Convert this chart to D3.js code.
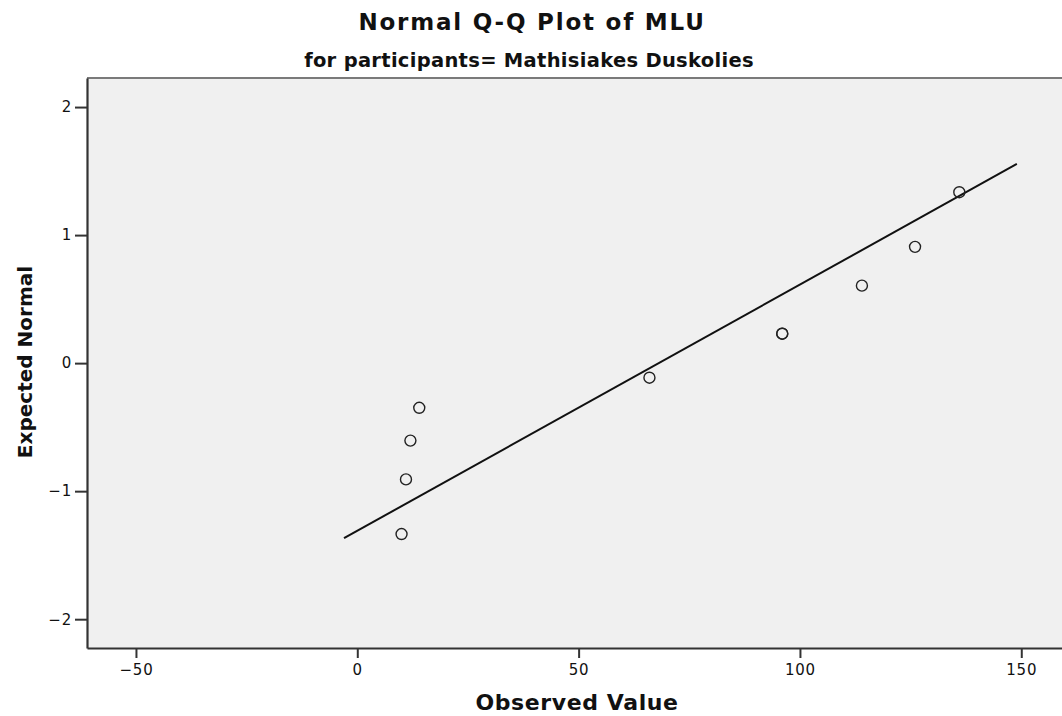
<!DOCTYPE html>
<html>
<head>
<meta charset="utf-8">
<script src="https://cdn.jsdelivr.net/npm/d3@7"></script>
<style>
  html, body { margin: 0; padding: 0; background: #fff; }
  svg { display: block; }
  text { font-family: "DejaVu Sans", sans-serif; fill: #111; }
</style>
</head>
<body>
<svg id="chart" width="1062" height="716"></svg>
<script>
// Observed MLU values (sorted) and their expected normal scores
const observed = [10, 11, 12, 14, 66, 96, 96, 114, 126, 136];
const expected = [-1.335, -0.908, -0.605, -0.349, -0.114, 0.230, 0.230, 0.605, 0.908, 1.335];

// Axis ticks
const xTicks = [-50, 0, 50, 100, 150];
const yTicks = [-2, -1, 0, 1, 2];

// Extent of the reference line along the observed axis
const lineExtent = [-3, 149];

const title = "Normal Q-Q Plot of MLU";
const subtitle = "for participants= Mathisiakes Duskolies";
const xTitle = "Observed Value";
const yTitle = "Expected Normal";

const svg = d3.select("#chart");
const plot = { left: 87, right: 1062, top: 78, bottom: 648 };

const x = d3.scaleLinear().domain([-61.06, 159.2]).range([plot.left, plot.right]);
const y = d3.scaleLinear().domain([-2.225, 2.227]).range([plot.bottom, plot.top]);

// Plot background
svg.append("rect")
  .attr("x", plot.left).attr("y", plot.top)
  .attr("width", plot.right - plot.left).attr("height", plot.bottom - plot.top)
  .attr("fill", "#f0f0f0");

// Top frame line
svg.append("line")
  .attr("x1", plot.left).attr("x2", plot.right)
  .attr("y1", plot.top).attr("y2", plot.top)
  .attr("stroke", "#7a7a7a").attr("stroke-width", 2);

// Reference line: mean and standard deviation of the observed values
const mean = d3.mean(observed);
const sd = d3.deviation(observed);
svg.append("line")
  .attr("x1", x(lineExtent[0])).attr("y1", y((lineExtent[0] - mean) / sd))
  .attr("x2", x(lineExtent[1])).attr("y2", y((lineExtent[1] - mean) / sd))
  .attr("stroke", "#111").attr("stroke-width", 2);

// Points
svg.append("g").selectAll("circle")
  .data(observed.map((v, i) => ({ v, e: expected[i] })))
  .join("circle")
  .attr("cx", d => x(d.v))
  .attr("cy", d => y(d.e))
  .attr("r", 5.5)
  .attr("fill", "none")
  .attr("stroke", "#222")
  .attr("stroke-width", 1.4);

// Axes
const fmt = d => d < 0 ? "\u2212" + Math.abs(d) : d;
const xAxis = svg.append("g")
  .attr("transform", `translate(0,${plot.bottom})`)
  .call(d3.axisBottom(x).tickValues(xTicks).tickSize(10).tickSizeOuter(0)
    .tickPadding(6).tickFormat(fmt));
const yAxis = svg.append("g")
  .attr("transform", `translate(${plot.left},0)`)
  .call(d3.axisLeft(y).tickValues(yTicks).tickSize(12).tickSizeOuter(0)
    .tickPadding(3).tickFormat(fmt));

[xAxis, yAxis].forEach(g => {
  g.select(".domain").attr("stroke", "#333").attr("stroke-width", 2.2);
  g.selectAll(".tick line").attr("stroke", "#333").attr("stroke-width", 2);
  g.selectAll(".tick text")
    .style("font-family", "'DejaVu Sans', sans-serif")
    .style("font-size", "15px").style("letter-spacing", "0.8px")
    .attr("fill", "#222");
});

// Titles
svg.append("text")
  .attr("x", 532).attr("y", 30)
  .attr("text-anchor", "middle")
  .style("font-size", "23px").style("font-weight", "bold")
  .style("letter-spacing", "1.8px")
  .text(title);

svg.append("text")
  .attr("x", 529).attr("y", 67)
  .attr("text-anchor", "middle")
  .style("font-size", "19.5px").style("font-weight", "bold")
  .style("letter-spacing", "0.3px")
  .text(subtitle);

svg.append("text")
  .attr("x", 577).attr("y", 710)
  .attr("text-anchor", "middle")
  .style("font-size", "22px").style("font-weight", "bold")
  .style("letter-spacing", "0.6px")
  .text(xTitle);

svg.append("text")
  .attr("transform", "translate(32,362) rotate(-90)")
  .attr("text-anchor", "middle")
  .style("font-size", "20px").style("font-weight", "bold")
  .text(yTitle);
</script>
</body>
</html>
